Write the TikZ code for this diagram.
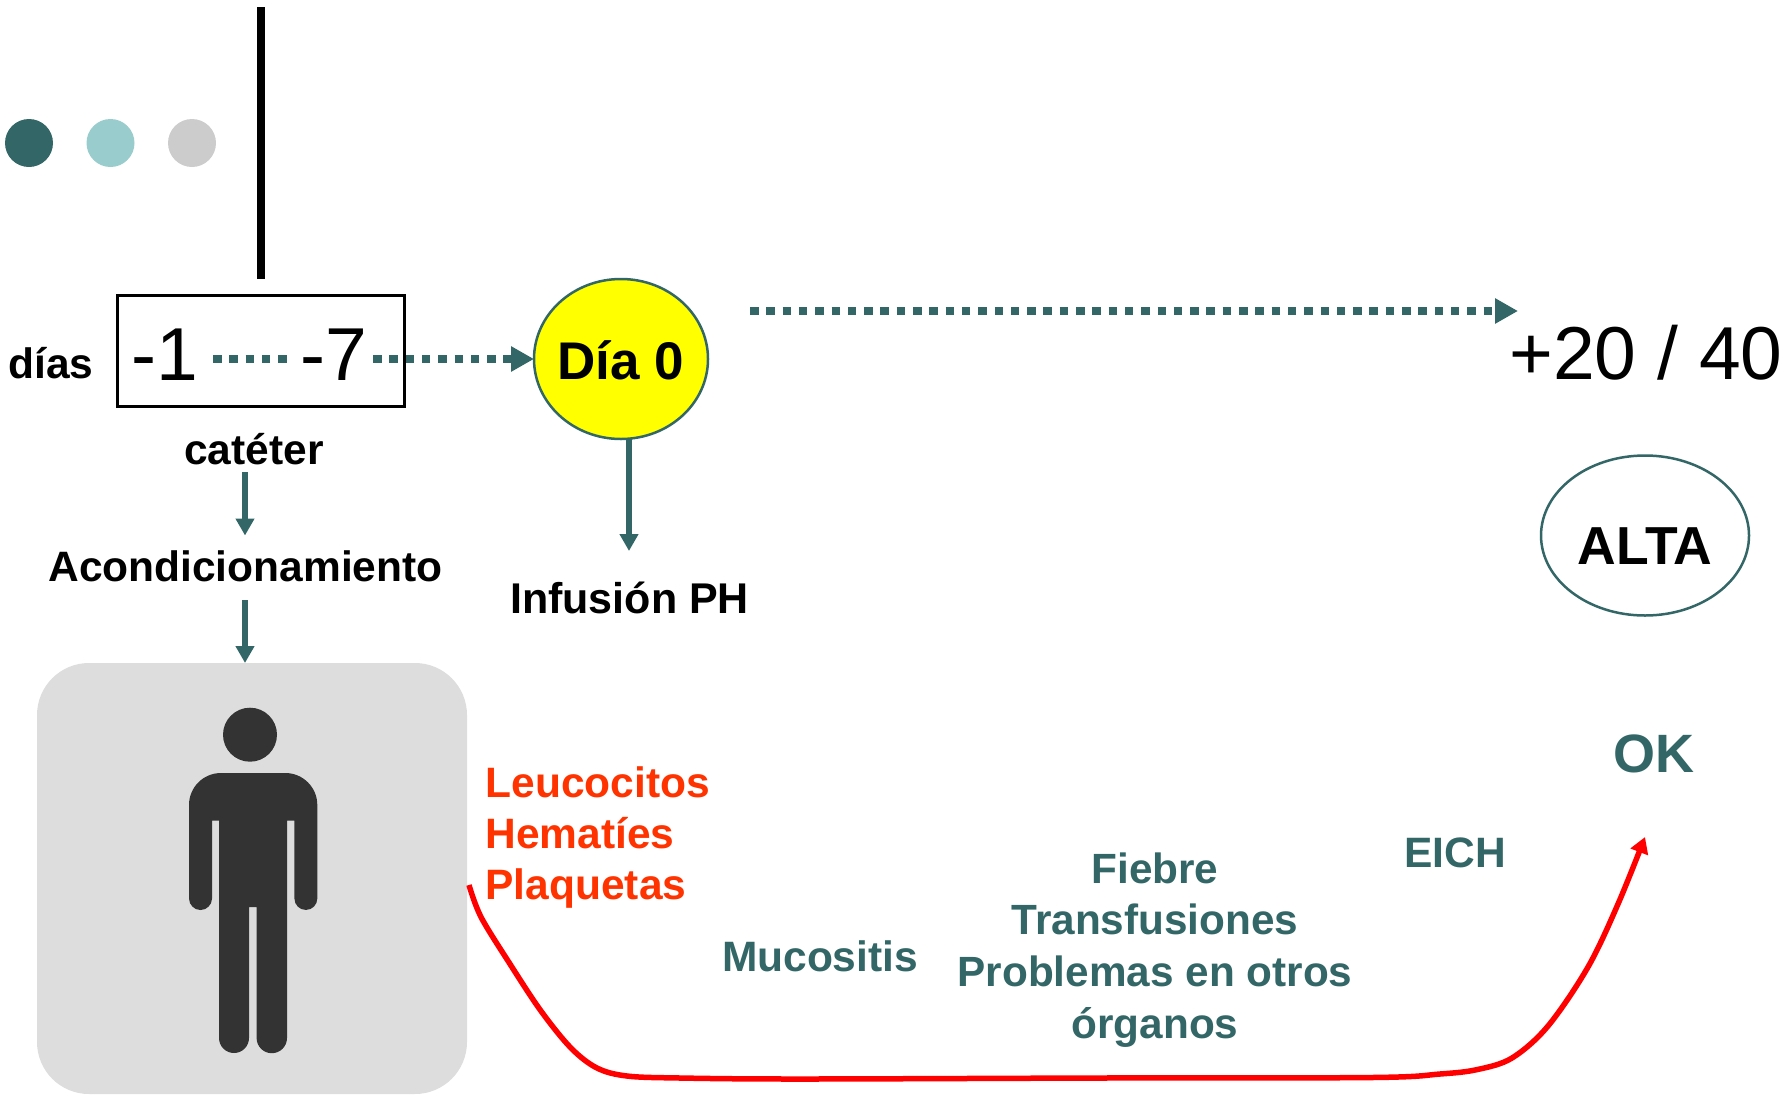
\documentclass[tikz,border=0pt]{standalone}
\usepackage{fontspec}
\setmainfont{Liberation Sans}
\usetikzlibrary{arrows.meta,shapes.geometric}
\definecolor{teal}{HTML}{336666}
\definecolor{redtxt}{HTML}{FF3300}
\definecolor{person}{HTML}{333333}
\definecolor{panel}{HTML}{DDDDDD}
\definecolor{dotB}{HTML}{99CCCC}
\definecolor{dotC}{HTML}{CCCCCC}
\definecolor{sun}{HTML}{FFFF00}
\definecolor{pure}{HTML}{FF0000}
\tikzset{
  x=1pt,y=-1pt,
  txt/.style={inner sep=0pt,outer sep=0pt,anchor=base,font=\fontsize{#1}{#1}\selectfont\bfseries},
  txt/.default=42.5,
  big/.style={inner sep=0pt,outer sep=0pt,anchor=base west,font=\fontsize{75}{75}\selectfont},
  dotsq/.style={teal,line width=8pt,dash pattern=on 8.5pt off 7.8pt},
  dottip/.style={-{Triangle[length=23pt,width=24pt]}},
  thinarrow/.style={teal,line width=5.5pt,-{Triangle[length=17pt,width=18pt]}},
  bullet/.style={circle,minimum size=48pt,inner sep=0pt,outer sep=0pt},
}
\begin{document}
\begin{tikzpicture}
\useasboundingbox (0,0) rectangle (1787,1095);
% bullets and bar
\node[bullet,fill=teal] (d1) at (29,143) {};
\node[bullet,fill=dotB] (d2) at (110.5,143) {};
\node[bullet,fill=dotC] (d3) at (192,143) {};
\fill[black] (257.3,7) rectangle (265,279);
% days box
\node[draw=black,line width=2.5pt,minimum width=287pt,minimum height=111pt,inner sep=0pt,outer sep=0pt] (box) at (261,351) {};
\node[big] (m1) at (131.5,380) {-1};
\node[big] (m7) at (300.5,380) {-7};
\node[txt] (dias) at (51,378) {días};
\node[txt] (cat) at (254,464) {catéter};
\node[txt] (acond) at (245.5,581) {Acondicionamiento};
% day 0
\node[ellipse,draw=teal,fill=sun,line width=2.5pt,minimum width=174pt,minimum height=160pt,inner sep=0pt,outer sep=0pt,
      font=\fontsize{53}{53}\selectfont\bfseries,text height=40pt,text depth=0pt] (dia) at (621,359) {\makebox[100pt]{Día 0}};
\node[txt=43] (inf) at (629.5,613) {Infusión PH};
% dotted
\coordinate (ds1) at (213,359);
\coordinate (de1) at (287,359);
\coordinate (ds2) at (373,359);
\coordinate (ds3) at (750,311);
\coordinate (de3) at (1518,311);
\draw[dotsq] (ds1) -- (de1);
\draw[dotsq,dottip] (ds2) -- (dia.west);
\draw[dotsq,dottip] (ds3) -- (de3);
% right column
\node[inner sep=0pt,outer sep=0pt,anchor=base,font=\fontsize{75}{75}\selectfont] (plus) at (1646,379) {+20 / 40};
\node[ellipse,draw=teal,line width=2.5pt,minimum width=208pt,minimum height=160pt,inner sep=0pt,outer sep=0pt,
      font=\fontsize{53.5}{53.5}\selectfont\bfseries,text height=58pt,text depth=0pt] (alta) at (1645,535.5) {ALTA};
\node[txt=54,text=teal] (ok) at (1654,772.5) {OK};
\node[txt,text=teal] (eich) at (1455,867) {EICH};
\node[txt,text=teal,align=center,font=\fontsize{42.3}{51.6}\selectfont\bfseries] (fiebre) at (1155,1038) {Fiebre\\Transfusiones\\Problemas en otros\\órganos};
\node[txt,text=teal] (muco) at (820,971) {Mucositis};
\node[txt,text=redtxt,align=left,anchor=base west,font=\fontsize{42.5}{51}\selectfont\bfseries] (leuco) at (485.5,899.5) {Leucocitos\\Hematíes\\Plaquetas};
% arrows
\coordinate (a1s) at (245,472);
\coordinate (a1e) at (245,535.5);
\coordinate (a2s) at (245,600);
\coordinate (a3e) at (629,551);
\draw[thinarrow] (a1s) -- (a1e);
% panel and person
\node[fill=panel,rounded corners=52pt,minimum width=430pt,minimum height=431pt,inner sep=0pt,outer sep=0pt] (panel) at (252,878.5) {};
\draw[thinarrow] (a2s) -- (a2s |- panel.north);
\draw[thinarrow] (a3e |- dia.south) -- (a3e);
\node[circle,fill=person,minimum size=54pt,inner sep=0pt,outer sep=0pt] (head) at (250,734.7) {};
\fill[person] (189,805) arc[start angle=180,end angle=270,radius=32] -- (285.3,773)
  arc[start angle=270,end angle=360,radius=32] -- (317.3,898.5)
  arc[start angle=0,end angle=180,radius=11.45] -- (294.4,820.6) -- (287,820.6) -- (287,1038)
  arc[start angle=0,end angle=180,radius=15.2] -- (256.6,907) -- (249,907) -- (249,1038)
  arc[start angle=0,end angle=180,radius=15] -- (219,820.6) -- (212,820.6) -- (212,898.5)
  arc[start angle=0,end angle=180,radius=11.5] -- cycle;
% red curve
\coordinate (rs) at (469,885);
\coordinate (re) at (1645,837);
\draw[pure,line width=5.5pt,-{Triangle[length=16pt,width=18pt]}] plot[smooth,tension=0.55] coordinates {
 (rs) (481,917) (510,964) (541,1011) (571,1048) (597,1068) (627,1076) (680,1078) (800,1079) (1100,1078) (1372,1077.5) (1440,1074) (1477,1069.6) (1512,1058) (1548,1026) (1588,967) (1618,904) (re)};
\end{tikzpicture}
\end{document}
